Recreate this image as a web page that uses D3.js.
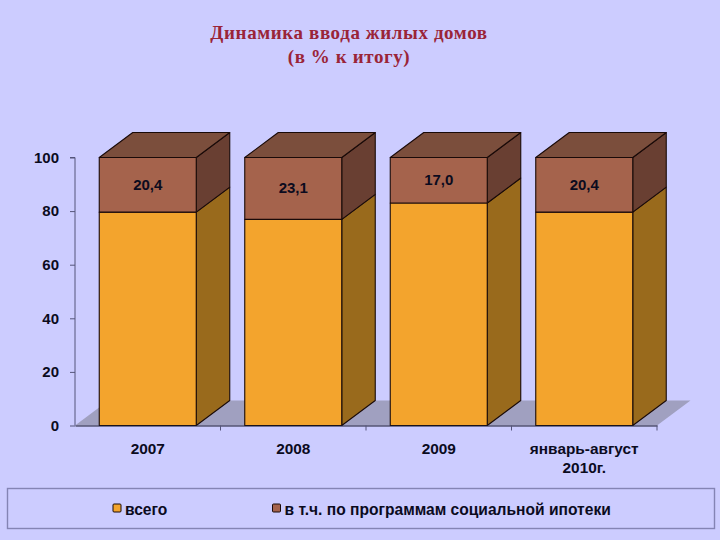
<!DOCTYPE html>
<html>
<head>
<meta charset="utf-8">
<script src="https://cdn.jsdelivr.net/npm/d3@7"></script>
<style>
  html, body { margin: 0; padding: 0; background: #ccccff; }
  svg { display: block; }
  text { font-family: "Liberation Sans", Arial, sans-serif; font-weight: bold; fill: #0b0b1e; }
  .title { font-family: "Liberation Serif", "Times New Roman", serif; font-size: 19px; fill: #9a2438; text-anchor: middle; letter-spacing: 0.6px; }
</style>
</head>
<body>
<div id="chart"></div>
<script>
const categories = ["2007", "2008", "2009", "январь-август|2010г."];
const total = [79.6, 76.9, 83.0, 79.6];
const mortgage = [20.4, 23.1, 17.0, 20.4];
const mortgageLabels = ["20,4", "23,1", "17,0", "20,4"];
const yTicks = [0, 20, 40, 60, 80, 100];
const seriesNames = ["всего", "в т.ч. по программам социальной ипотеки"];
const titleLines = ["Динамика ввода жилых домов", "(в % к итогу)"];

const width = 720, height = 540;
const depthX = 33.5, depthY = -25; // 3D offset of the bars

const colors = {
  total: { front: "#f3a42d", side: "#996a1c" },
  mortgage: { front: "#a5634c", side: "#693f32", top: "#7b4e3c" }
};

const svg = d3.select("#chart").append("svg")
  .attr("width", width)
  .attr("height", height)
  .attr("viewBox", `0 0 ${width} ${height}`);

svg.append("rect").attr("width", width).attr("height", height).attr("fill", "#ccccff");

// Title
svg.selectAll(".title").data(titleLines).join("text")
  .attr("class", "title")
  .attr("x", 349)
  .attr("y", (d, i) => 39 + i * 24)
  .text(d => d);

// Scales
const x = d3.scaleBand().domain(categories).range([75, 657]).paddingInner(1 / 3).paddingOuter(1 / 6);
const y = d3.scaleLinear().domain([0, 100]).range([425.5, 157.5]);

const poly = pts => pts.map(p => p.join(",")).join(" ");

// Floor
svg.append("polygon")
  .attr("points", poly([
    [x.range()[0], y(0)],
    [x.range()[0] + depthX, y(0) + depthY],
    [x.range()[1] + depthX, y(0) + depthY],
    [x.range()[1], y(0)]
  ]))
  .attr("fill", "#a0a0c0");

// Stacked values
const rows = categories.map((c, i) => ({ c, total: total[i], mortgage: mortgage[i], label: mortgageLabels[i] }));

const bars = svg.selectAll(".bar").data(rows).join("g").attr("class", "bar");
const edge = { stroke: "#1a0a08", "stroke-width": 1.1, "stroke-linejoin": "round" };
const applyEdge = sel => { Object.entries(edge).forEach(([k, v]) => sel.attr(k, v)); return sel; };

bars.each(function (d) {
  const g = d3.select(this);
  const x0 = x(d.c), x1 = x0 + x.bandwidth();
  const yBase = y(0), yMid = y(d.total), yTop = y(d.total + d.mortgage);

  // Orange side, then brown side and top
  applyEdge(g.append("polygon")).attr("fill", colors.total.side)
    .attr("points", poly([[x1, yBase], [x1 + depthX, yBase + depthY], [x1 + depthX, yMid + depthY], [x1, yMid]]));
  applyEdge(g.append("polygon")).attr("fill", colors.mortgage.side)
    .attr("points", poly([[x1, yMid], [x1 + depthX, yMid + depthY], [x1 + depthX, yTop + depthY], [x1, yTop]]));
  applyEdge(g.append("polygon")).attr("fill", colors.mortgage.top)
    .attr("points", poly([[x0, yTop], [x0 + depthX, yTop + depthY], [x1 + depthX, yTop + depthY], [x1, yTop]]));

  // Front faces
  applyEdge(g.append("rect")).attr("fill", colors.total.front)
    .attr("x", x0).attr("y", yMid).attr("width", x.bandwidth()).attr("height", yBase - yMid);
  applyEdge(g.append("rect")).attr("fill", colors.mortgage.front)
    .attr("x", x0).attr("y", yTop).attr("width", x.bandwidth()).attr("height", yMid - yTop);

  // Value label
  g.append("text")
    .attr("x", x0 + x.bandwidth() / 2)
    .attr("y", (yMid + yTop) / 2 + 5)
    .attr("text-anchor", "middle")
    .attr("font-size", 15)
    .text(d.label);
});

// Y axis
const yAxis = svg.append("g")
  .attr("transform", "translate(75,0)")
  .call(d3.axisLeft(y).tickValues(yTicks).tickSize(5).tickPadding(11));
yAxis.selectAll("path, line").attr("stroke", "#55557a").attr("stroke-width", 1);
yAxis.selectAll("text").attr("font-size", 15).attr("font-family", null).style("fill", "#0b0b1e");
yAxis.select(".domain").attr("d", `M0,${y(100)}H-5M0,${y(100)}V${y(0)}`);

// X axis: line and separators between categories
const xAxis = svg.append("g")
  .attr("transform", `translate(0,${y(0)})`)
  .call(d3.axisBottom(x).tickSize(0).tickFormat(""));
xAxis.select(".domain").attr("stroke", "#1a1a30").attr("stroke-width", 1);
xAxis.selectAll(".sep").data(categories).join("line")
  .attr("class", "sep")
  .attr("x1", d => x(d) + x.bandwidth() + x.step() * x.paddingOuter())
  .attr("x2", d => x(d) + x.bandwidth() + x.step() * x.paddingOuter())
  .attr("y1", 0).attr("y2", 5)
  .attr("stroke", "#55557a");

// Category labels (| separates lines)
svg.selectAll(".cat").data(categories).join("text")
  .attr("class", "cat")
  .attr("text-anchor", "middle")
  .attr("font-size", 15.4)
  .each(function (d) {
    d3.select(this).selectAll("tspan").data(d.split("|")).join("tspan")
      .attr("x", x(d) + x.bandwidth() / 2)
      .attr("y", (t, i) => 454 + i * 19)
      .text(t => t);
  });

// Legend
svg.append("rect")
  .attr("x", 7.5).attr("y", 488.5).attr("width", 707).attr("height", 40)
  .attr("fill", "none").attr("stroke", "#8484b4").attr("stroke-width", 1.4);

const legendColors = [colors.total.front, colors.mortgage.front];
const legendX = d3.scaleOrdinal().domain(seriesNames).range([113, 272.5]);
const legend = svg.selectAll(".legend").data(seriesNames).join("g")
  .attr("class", "legend")
  .attr("transform", d => `translate(${legendX(d)},504)`);
legend.append("rect")
  .attr("width", 8).attr("height", 8).attr("rx", 1)
  .attr("fill", (d, i) => legendColors[i])
  .attr("stroke", "#1a0a08").attr("stroke-width", 1);
legend.append("text")
  .attr("x", 12).attr("y", 10.5)
  .attr("font-size", 15.6)
  .text(d => d);
</script>
</body>
</html>
